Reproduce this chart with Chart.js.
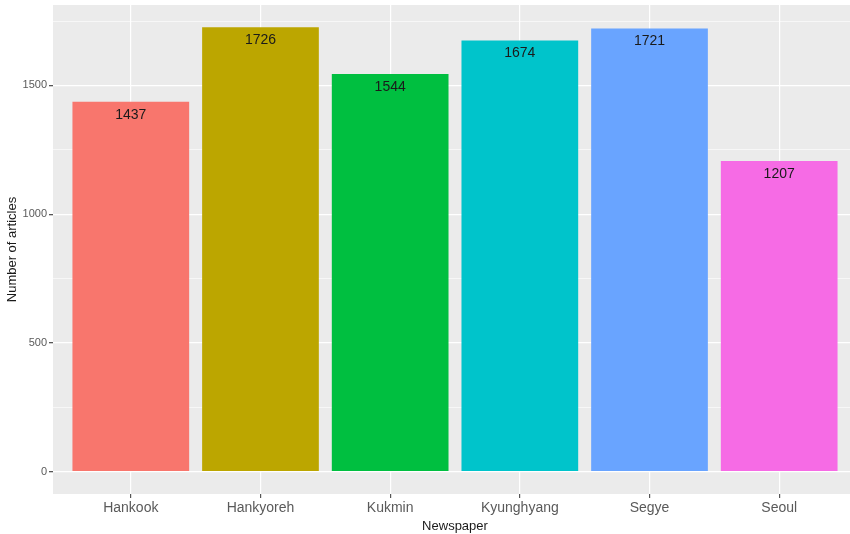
<!DOCTYPE html>
<html>
<head>
<title></title>
<script src="https://cdn.jsdelivr.net/npm/chart.js"></script>
<style>
  html, body { margin: 0; padding: 0; background: #fff; overflow: hidden; }
  #wrap { width: 860px; height: 534px; }
</style>
</head>
<body>
<div id="wrap"><canvas id="myChart" width="860" height="534"></canvas></div>
<script>
const newspapers = ['Hankook', 'Hankyoreh', 'Kukmin', 'Kyunghyang', 'Segye', 'Seoul'];
const articles = [1437, 1726, 1544, 1674, 1721, 1207];
const barColors = ['#F8766D', '#BCA600', '#00BF40', '#00C4CB', '#69A4FF', '#F66BE5'];
const yTicks = [0, 500, 1000, 1500];

const FONT = "'Liberation Sans', Arial, sans-serif";

// grey panel behind the plot, like ggplot
const panelBg = {
  id: 'panelBg',
  beforeDraw(chart) {
    const a = chart.chartArea;
    const ctx = chart.ctx;
    ctx.save();
    ctx.fillStyle = '#EBEBEB';
    ctx.fillRect(a.left, a.top, a.right - a.left, a.bottom - a.top);
    ctx.restore();
  }
};

// value text just inside the top of each bar
const barText = {
  id: 'barText',
  afterDatasetsDraw(chart) {
    const ctx = chart.ctx;
    const meta = chart.getDatasetMeta(0);
    ctx.save();
    ctx.font = '14px ' + FONT;
    ctx.fillStyle = '#1a1a1a';
    ctx.textAlign = 'center';
    ctx.textBaseline = 'middle';
    meta.data.forEach((bar, i) => {
      ctx.fillText(articles[i], bar.x, bar.y + 13);
    });
    ctx.restore();
  }
};

const ctx = document.getElementById('myChart');
new Chart(ctx, {
  type: 'bar',
  data: {
    datasets: [{
      data: newspapers.map((n, i) => ({ x: i + 1, y: articles[i] })),
      backgroundColor: barColors,
      borderWidth: 0,
      barPercentage: 0.9,
      categoryPercentage: 1.0
    }]
  },
  options: {
    responsive: false,
    animation: false,
    layout: { padding: { top: 5, right: 3, left: 0, bottom: 0 } },
    plugins: {
      legend: { display: false },
      tooltip: { enabled: false }
    },
    scales: {
      x: {
        type: 'linear',
        min: 0.4,
        max: 6.6,
        offset: false,
        border: { display: false },
        grid: {
          offset: false,
          color: '#ffffff',
          lineWidth: 1.2,
          tickColor: '#555555',
          tickLength: 4,
          drawTicks: true
        },
        ticks: {
          stepSize: 1,
          includeBounds: false,
          autoSkip: false,
          maxRotation: 0,
          padding: 2,
          color: '#5a5a5a',
          font: { family: FONT, size: 14 },
          callback: v => newspapers[v - 1] || ''
        },
        title: {
          display: true,
          text: 'Newspaper',
          color: '#1a1a1a',
          font: { family: FONT, size: 13 },
          padding: { top: 0, bottom: 0 }
        },
        afterFit(scale) {
          scale.height = 40;
          scale.paddingLeft = 0;
          scale.paddingRight = 0;
        }
      },
      y: {
        min: -86.3,
        max: 1812.3,
        border: { display: false },
        grid: {
          color: '#ffffff',
          lineWidth: c => (yTicks.includes(c.tick && c.tick.value) ? 1.3 : 0.6),
          tickColor: c => (yTicks.includes(c.tick && c.tick.value) ? '#555555' : 'rgba(0,0,0,0)'),
          tickLength: 4
        },
        ticks: {
          stepSize: 250,
          includeBounds: false,
          padding: 2,
          color: '#5a5a5a',
          font: { family: FONT, size: 11 },
          callback: v => (yTicks.includes(v) ? v : '')
        },
        title: {
          display: true,
          text: 'Number of articles',
          color: '#1a1a1a',
          font: { family: FONT, size: 13 },
          padding: { top: 5, bottom: 0 }
        },
        afterFit(scale) {
          scale.width = 53;
          scale.paddingTop = 0;
          scale.paddingBottom = 0;
        }
      }
    }
  },
  plugins: [panelBg, barText]
});
</script>
</body>
</html>
